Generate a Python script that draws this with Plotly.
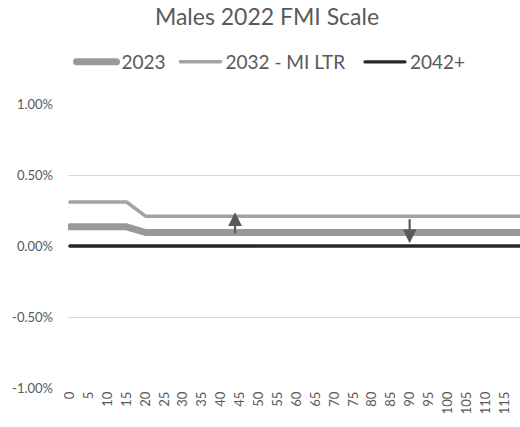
import plotly.graph_objects as go

ages = [0, 15, 20, 120]
s2023 = [0.00135, 0.00135, 0.00095, 0.00095]
s2032 = [0.0031, 0.0031, 0.0021, 0.0021]
s2042 = [0.0, 0.0, 0.0, 0.0]

x_ticks = list(range(0, 120, 5))
y_ticks = [-0.01, -0.005, 0.0, 0.005, 0.01]
y_labels = ["-1.00%", "-0.50%", "0.00%", "0.50%", "1.00%"]

FONT = "Lato"
TXT = "#595959"

fig = go.Figure()
fig.add_trace(go.Scatter(x=ages, y=s2023, mode="lines", name="2023" + "\u00a0",
                         line=dict(color="#999999", width=7)))
fig.add_trace(go.Scatter(x=ages, y=s2032, mode="lines", name="2032 - MI LTR" + "\u00a0" * 2,
                         line=dict(color="#a3a3a3", width=3.5)))
fig.add_trace(go.Scatter(x=ages, y=s2042, mode="lines", name="2042+",
                         line=dict(color="#262626", width=3.3)))

# arrows
fig.add_annotation(x=43.7, y=0.00237, ax=43.7, ay=0.00077, xref="x", yref="y",
                   axref="x", ayref="y", showarrow=True, arrowhead=2,
                   arrowsize=1.25, arrowwidth=2.2, arrowcolor="#595959", text="")
fig.add_annotation(x=89.9, y=0.00019, ax=89.9, ay=0.00199, xref="x", yref="y",
                   axref="x", ayref="y", showarrow=True, arrowhead=2,
                   arrowsize=1.25, arrowwidth=2.2, arrowcolor="#595959", text="")

fig.update_layout(
    width=520, height=427,
    margin=dict(l=68, r=0, t=104, b=39),
    paper_bgcolor="white", plot_bgcolor="white",
    font=dict(family=FONT, color=TXT, size=14),
    title=dict(text="Males 2022 FMI Scale", x=267/520, xref="container",
               xanchor="center", y=1-17/427, yref="container", yanchor="middle",
               font=dict(size=23, color=TXT, family=FONT)),
    legend=dict(orientation="h", x=271/520, xref="container", xanchor="center",
                y=1-62/427, yref="container", yanchor="middle",
                font=dict(size=19, color=TXT, family=FONT),
                itemwidth=40, tracegroupgap=0),
    showlegend=True,
)
fig.update_xaxes(range=[-0.5, 119.1], tickmode="array", tickvals=x_ticks,
                 ticktext=[str(t) for t in x_ticks], tickangle=-90,
                 showgrid=False, zeroline=False, showline=False, ticks="",
                 tickfont=dict(size=13, color=TXT, family=FONT))
fig.update_yaxes(range=[-0.01, 0.01], tickmode="array", tickvals=y_ticks,
                 ticktext=y_labels, showgrid=True, gridcolor="#d9d9d9",
                 gridwidth=1, zeroline=False, showline=False, ticks="",
                 ticklabelstandoff=14,
                 tickfont=dict(size=13, color=TXT, family=FONT))

post = """
document.body.style.margin='0';
function fixCaps(){
  document.querySelectorAll('.js-line').forEach(function(p){
    p.style.strokeLinecap='round'; p.style.strokeLinejoin='round';
  });
}
fixCaps(); setTimeout(fixCaps, 50); setTimeout(fixCaps, 300);
"""
fig.write_html("out.html", post_script=post, config={"displayModeBar": False})
